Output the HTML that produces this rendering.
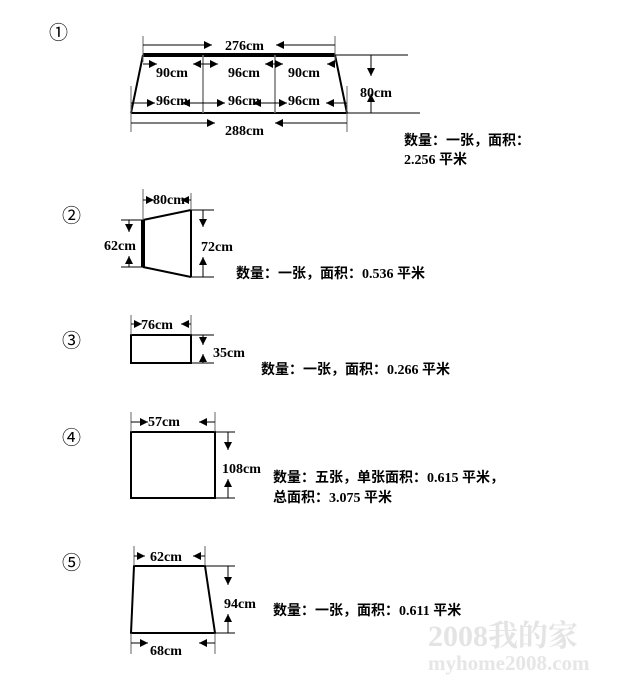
<!DOCTYPE html>
<html><head><meta charset="utf-8"><style>
html,body{margin:0;padding:0;background:#fff;}
svg{display:block;}
text{font-family:"Liberation Serif","Noto Serif CJK SC",serif;font-weight:bold;font-size:14px;fill:#000;}
.cn{font-family:"Liberation Serif","Noto Sans CJK SC",sans-serif;font-weight:bold;font-size:14px;}
.num{font-family:"Liberation Serif","Noto Sans CJK SC",serif;font-weight:normal;font-size:19px;}
</style></head><body>
<svg width="633" height="679" viewBox="0 0 633 679" xmlns="http://www.w3.org/2000/svg">
<defs>
<marker id="a" viewBox="0 0 10 10" refX="10" refY="5" markerWidth="9" markerHeight="8" markerUnits="userSpaceOnUse" orient="auto"><path d="M0,0L10,5L0,10z" fill="#000"/></marker>
</defs>
<g stroke="#000" stroke-width="1" fill="none">
<line x1="143" y1="55" x2="335" y2="55" stroke-width="4"/>
<line x1="131" y1="113" x2="347" y2="113" stroke-width="2"/>
<line x1="143" y1="55" x2="131" y2="113" stroke-width="2"/>
<line x1="335" y1="55" x2="347" y2="113" stroke-width="2"/>
<line x1="203" y1="55" x2="203" y2="113" stroke="#777" stroke-width="1.5"/>
<line x1="275" y1="55" x2="275" y2="113" stroke="#777" stroke-width="1.5"/>
<line x1="143" y1="36" x2="143" y2="62" stroke="#666"/>
<line x1="335" y1="36" x2="335" y2="62" stroke="#666"/>
<line x1="131" y1="86" x2="131" y2="132" stroke="#666"/>
<line x1="347" y1="86" x2="347" y2="132" stroke="#666"/>
<line x1="143" y1="45" x2="212" y2="45" marker-end="url(#a)"/>
<line x1="335" y1="45" x2="276" y2="45" marker-end="url(#a)"/>
<line x1="131" y1="123" x2="215" y2="123" marker-end="url(#a)"/>
<line x1="347" y1="123" x2="275" y2="123" marker-end="url(#a)"/>
<line x1="143" y1="64" x2="157" y2="64" marker-end="url(#a)"/>
<line x1="203" y1="64" x2="193" y2="64" marker-end="url(#a)"/>
<line x1="203" y1="64" x2="218" y2="64" marker-end="url(#a)"/>
<line x1="275" y1="64" x2="265" y2="64" marker-end="url(#a)"/>
<line x1="275" y1="64" x2="283" y2="64" marker-end="url(#a)"/>
<line x1="335" y1="64" x2="327" y2="64" marker-end="url(#a)"/>
<line x1="131" y1="103" x2="155" y2="103" marker-end="url(#a)"/>
<line x1="203" y1="103" x2="182" y2="103" marker-end="url(#a)"/>
<line x1="203" y1="103" x2="225" y2="103" marker-end="url(#a)"/>
<line x1="275" y1="103" x2="253" y2="103" marker-end="url(#a)"/>
<line x1="275" y1="103" x2="287" y2="103" marker-end="url(#a)"/>
<line x1="347" y1="103" x2="326" y2="103" marker-end="url(#a)"/>
<line x1="335" y1="55" x2="408" y2="55"/>
<line x1="347" y1="113" x2="420" y2="113"/>
<line x1="371" y1="55" x2="371" y2="76" marker-end="url(#a)"/>
<line x1="371" y1="113" x2="371" y2="94" marker-end="url(#a)"/>
<line x1="143" y1="220" x2="143" y2="267" stroke-width="4"/>
<line x1="143" y1="220" x2="191" y2="210" stroke-width="2"/>
<line x1="143" y1="267" x2="191" y2="277" stroke-width="2"/>
<line x1="191" y1="210" x2="191" y2="277" stroke-width="2"/>
<line x1="121" y1="220" x2="143" y2="220"/>
<line x1="121" y1="267" x2="143" y2="267"/>
<line x1="129" y1="220" x2="129" y2="232" marker-end="url(#a)"/>
<line x1="129" y1="267" x2="129" y2="256" marker-end="url(#a)"/>
<line x1="191" y1="210" x2="214" y2="210"/>
<line x1="191" y1="277" x2="214" y2="277"/>
<line x1="203" y1="210" x2="203" y2="227" marker-end="url(#a)"/>
<line x1="203" y1="277" x2="203" y2="257" marker-end="url(#a)"/>
<line x1="143" y1="189" x2="143" y2="220" stroke="#666"/>
<line x1="191" y1="193" x2="191" y2="210" stroke="#666"/>
<line x1="143" y1="200" x2="154" y2="200" marker-end="url(#a)"/>
<line x1="191" y1="200" x2="181" y2="200" marker-end="url(#a)"/>
<rect x="131" y="335" width="60" height="28" stroke-width="2"/>
<line x1="131" y1="315" x2="131" y2="335" stroke="#666"/>
<line x1="191" y1="315" x2="191" y2="335" stroke="#666"/>
<line x1="131" y1="324" x2="142" y2="324" marker-end="url(#a)"/>
<line x1="191" y1="324" x2="181" y2="324" marker-end="url(#a)"/>
<line x1="191" y1="335" x2="214" y2="335"/>
<line x1="191" y1="363" x2="214" y2="363"/>
<line x1="203" y1="335" x2="203" y2="345" marker-end="url(#a)"/>
<line x1="203" y1="363" x2="203" y2="354" marker-end="url(#a)"/>
<rect x="131" y="432" width="84" height="66" stroke-width="2"/>
<line x1="131" y1="412" x2="131" y2="432" stroke="#666"/>
<line x1="215" y1="412" x2="215" y2="432" stroke="#666"/>
<line x1="131" y1="422" x2="148" y2="422" marker-end="url(#a)"/>
<line x1="215" y1="422" x2="199" y2="422" marker-end="url(#a)"/>
<line x1="215" y1="432" x2="235" y2="432"/>
<line x1="215" y1="498" x2="235" y2="498"/>
<line x1="228" y1="432" x2="228" y2="450" marker-end="url(#a)"/>
<line x1="228" y1="498" x2="228" y2="479" marker-end="url(#a)"/>
<path d="M134,566 L205,566 L215,633 L131,633 Z" stroke-width="2"/>
<line x1="134" y1="546" x2="134" y2="566" stroke="#666"/>
<line x1="205" y1="546" x2="205" y2="566" stroke="#666"/>
<line x1="134" y1="556" x2="145" y2="556" marker-end="url(#a)"/>
<line x1="205" y1="556" x2="193" y2="556" marker-end="url(#a)"/>
<line x1="205" y1="566" x2="235" y2="566"/>
<line x1="215" y1="633" x2="235" y2="633"/>
<line x1="228" y1="566" x2="228" y2="585" marker-end="url(#a)"/>
<line x1="228" y1="633" x2="228" y2="614" marker-end="url(#a)"/>
<line x1="131" y1="633" x2="131" y2="654" stroke="#666"/>
<line x1="215" y1="633" x2="215" y2="654" stroke="#666"/>
<line x1="131" y1="643" x2="148" y2="643" marker-end="url(#a)"/>
<line x1="215" y1="643" x2="199" y2="643" marker-end="url(#a)"/>
</g>
<text class="num" x="49" y="39">①</text>
<text class="num" x="62" y="222">②</text>
<text class="num" x="62" y="347">③</text>
<text class="num" x="62" y="444">④</text>
<text class="num" x="62" y="569">⑤</text>
<text x="225" y="50">276cm</text>
<text x="156" y="77">90cm</text><text x="228" y="77">96cm</text><text x="288" y="77">90cm</text>
<text x="156" y="105">96cm</text><text x="228" y="105">96cm</text><text x="288" y="105">96cm</text>
<text x="225" y="135">288cm</text>
<text x="360" y="97">80cm</text>
<text class="cn" x="404" y="145">数量：一张，面积：</text>
<text class="cn" x="404" y="164">2.256 平米</text>
<text x="153" y="204">80cm</text>
<text x="104" y="250">62cm</text>
<text x="201" y="251">72cm</text>
<text class="cn" x="236" y="278">数量：一张，面积：0.536 平米</text>
<text x="141" y="329">76cm</text>
<text x="213" y="357">35cm</text>
<text class="cn" x="261" y="374">数量：一张，面积：0.266 平米</text>
<text x="148" y="426">57cm</text>
<text x="222" y="473">108cm</text>
<text class="cn" x="273" y="482">数量：五张，单张面积：0.615 平米，</text>
<text class="cn" x="273" y="502">总面积：3.075 平米</text>
<text x="150" y="561">62cm</text>
<text x="224" y="608">94cm</text>
<text class="cn" x="273" y="615">数量：一张，面积：0.611 平米</text>
<text x="150" y="655">68cm</text>
<text x="428" y="646" style="font-size:30px;fill:#e4e4e4;font-weight:bold">2008我的家</text>
<text x="428" y="670" style="font-size:21px;fill:#e6e6e6;font-weight:bold">myhome2008.com</text>
</svg>
</body></html>
